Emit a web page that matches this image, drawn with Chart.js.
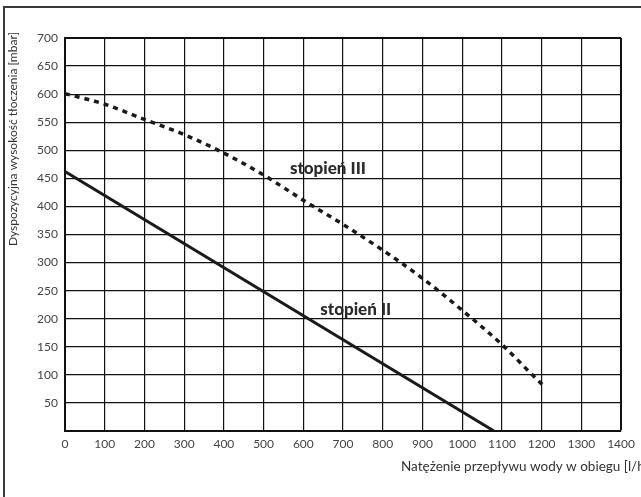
<!DOCTYPE html>
<html>
<head>
  <title>Dyspozycyjna wysokość tłoczenia</title>
  <script src="https://cdn.jsdelivr.net/npm/chart.js"></script>
  <style>
    html, body {
      margin: 0;
      padding: 0;
      background: #fff;
      overflow: hidden;
    }
    #wrap {
      position: relative;
      width: 641px;
      height: 497px;
    }
    #frame {
      position: absolute;
      left: 3px;
      top: 6px;
      width: 700px;
      height: 600px;
      border-left: 2px solid #3a3a3a;
      border-top: 2px solid #3a3a3a;
      pointer-events: none;
    }
  </style>
</head>
<body>
  <div id="wrap">
    <div id="frame"></div>
    <canvas id="pumpChart" width="641" height="497"></canvas>
  </div>

  <script>
    // stopień III (dashed curve)
    const flow3 = [0, 100, 200, 300, 400, 500, 600, 700, 800, 900, 1000, 1100, 1200, 1210];
    const head3 = [601, 582, 555, 528, 495, 456, 411, 368, 322, 272, 215, 154, 84, 78];

    // stopień II (straight line)
    const flow2 = [0, 1080];
    const head2 = [462, 0];

    const curveLabels = ['stopień III', 'stopień II'];
    const labelFlow = [662, 732];
    const labelHead = [467, 217];

    const yTitle = 'Dyspozycyjna wysokość tłoczenia [mbar]';
    const xTitle = 'Natężenie przepływu wody w obiegu [l/h]';

    const FONT = 'Lato, "Open Sans", sans-serif';

    function toPoints(xs, ys) {
      return xs.map((x, i) => ({ x: x, y: ys[i] }));
    }

    const textPlugin = {
      id: 'textPlugin',
      afterDraw(chart) {
        const ctx = chart.ctx;
        const xs = chart.scales.x;
        const ys = chart.scales.y;
        ctx.save();
        ctx.fillStyle = '#2a2a2a';

        // curve labels
        ctx.font = '900 17px ' + FONT;
        ctx.textAlign = 'center';
        ctx.textBaseline = 'middle';
        curveLabels.forEach((t, i) => {
          ctx.fillText(t, xs.getPixelForValue(labelFlow[i]), ys.getPixelForValue(labelHead[i]));
        });

        // x axis title (runs past the right edge like the original)
        ctx.fillStyle = '#333';
        ctx.font = '13.5px ' + FONT;
        ctx.textAlign = 'left';
        ctx.fillText(xTitle, 401, 467);

        // y axis title
        ctx.translate(13, 139);
        ctx.rotate(-Math.PI / 2);
        ctx.font = '12px ' + FONT;
        ctx.textAlign = 'center';
        ctx.fillText(yTitle, 0, 0);
        ctx.restore();
      }
    };

    const ctx = document.getElementById('pumpChart').getContext('2d');
    const chart = new Chart(ctx, {
      type: 'line',
      data: {
        datasets: [{
          label: curveLabels[0],
          data: toPoints(flow3, head3),
          borderColor: '#1a1a1a',
          borderWidth: 3.5,
          borderDash: [5, 5],
          pointRadius: 0,
          fill: false,
          cubicInterpolationMode: 'monotone'
        }, {
          label: curveLabels[1],
          data: toPoints(flow2, head2),
          borderColor: '#1a1a1a',
          borderWidth: 3,
          pointRadius: 0,
          fill: false
        }]
      },
      options: {
        responsive: false,
        animation: false,
        layout: {
          padding: { left: 0, top: 38, right: 16, bottom: 0 }
        },
        plugins: {
          legend: { display: false },
          tooltip: { enabled: false }
        },
        scales: {
          x: {
            type: 'linear',
            min: 0,
            max: 1400,
            afterFit(scale) { scale.height = 66; },
            border: { color: '#111', width: 2 },
            grid: {
              color: '#111',
              lineWidth: c => (c.tick && c.tick.value === 1400) ? 2 : 1.2,
              drawTicks: false
            },
            ticks: {
              stepSize: 100,
              padding: 6,
              color: '#444',
              font: { family: FONT, size: 12 },
              maxRotation: 0,
              callback: v => String(v)
            }
          },
          y: {
            min: 0,
            max: 700,
            afterFit(scale) { scale.width = 65; },
            border: { color: '#111', width: 2 },
            grid: {
              color: '#111',
              lineWidth: c => (c.tick && c.tick.value === 700) ? 2 : 1.2,
              drawTicks: false
            },
            ticks: {
              stepSize: 50,
              padding: 7,
              color: '#444',
              font: { family: FONT, size: 12 },
              callback: v => v === 0 ? '' : String(v)
            }
          }
        }
      },
      plugins: [textPlugin]
    });
  </script>
</body>
</html>
